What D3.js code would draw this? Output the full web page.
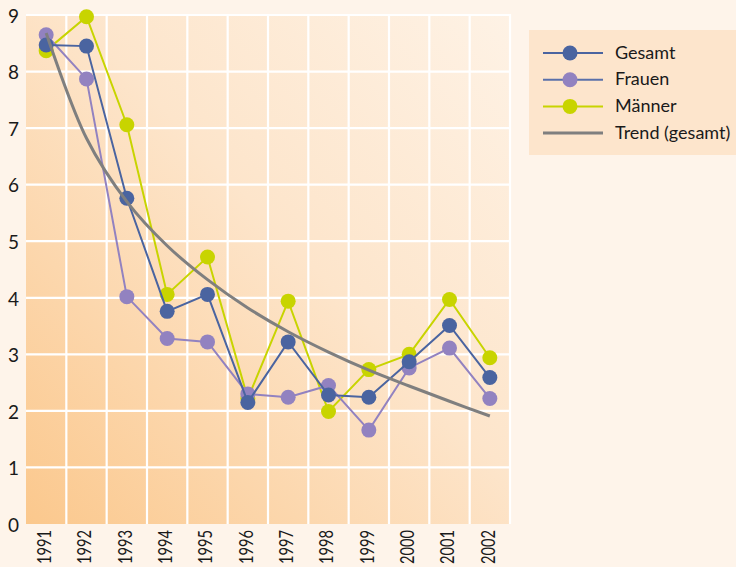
<!DOCTYPE html>
<html>
<head>
<meta charset="utf-8">
<script src="https://cdn.jsdelivr.net/npm/d3@7"></script>
<style>
  html, body { margin: 0; padding: 0; background: #fef4ea; }
  svg { display: block; font-family: Lato, "Open Sans", sans-serif; }
</style>
</head>
<body>
<svg id="chart" width="736" height="567"></svg>
<script>
const years = ["1991","1992","1993","1994","1995","1996","1997","1998","1999","2000","2001","2002"];
const gesamt = [8.47, 8.45, 5.76, 3.76, 4.06, 2.15, 3.22, 2.28, 2.24, 2.87, 3.51, 2.59];
const frauen = [8.65, 7.87, 4.02, 3.28, 3.22, 2.30, 2.24, 2.45, 1.66, 2.76, 3.11, 2.22];
const maenner = [8.37, 8.97, 7.06, 4.06, 4.72, 2.22, 3.94, 1.99, 2.73, 3.00, 3.97, 2.94];
const trend = [8.68, 6.82, 5.70, 4.92, 4.32, 3.82, 3.40, 3.04, 2.72, 2.44, 2.17, 1.91];
const yTicks = [0,1,2,3,4,5,6,7,8,9];
const legendLabels = ["Gesamt", "Frauen", "Männer", "Trend (gesamt)"];

const svg = d3.select("#chart");
const W = 736, H = 567;
svg.append("rect").attr("width", W).attr("height", H).attr("fill", "#fef4ea");

const x = d3.scaleBand().domain(years).range([26, 510]).padding(0);
const y = d3.scaleLinear().domain([0, 9]).range([524, 15]);
const cx = d => x(d) + x.bandwidth() / 2;

const defs = svg.append("defs");
const grad = defs.append("linearGradient").attr("id", "bg")
  .attr("x1", 0).attr("y1", 1).attr("x2", 1).attr("y2", 0);
grad.append("stop").attr("offset", "0%").attr("stop-color", "#fbc88d");
grad.append("stop").attr("offset", "55%").attr("stop-color", "#fde5cb");
grad.append("stop").attr("offset", "100%").attr("stop-color", "#fef2e5");

svg.append("rect")
  .attr("x", x.range()[0]).attr("y", y(9))
  .attr("width", x.range()[1] - x.range()[0]).attr("height", y(0) - y(9))
  .attr("fill", "url(#bg)");

// grid
const grid = svg.append("g").attr("stroke", "#ffffff").attr("stroke-width", 2.2);
years.forEach(yr => {
  grid.append("line").attr("x1", x(yr) + x.bandwidth()).attr("x2", x(yr) + x.bandwidth())
    .attr("y1", y(9) - 1).attr("y2", y(0));
});
yTicks.filter(t => t > 0).forEach(t => {
  grid.append("line").attr("x1", x.range()[0]).attr("x2", x.range()[1] + 1)
    .attr("y1", y(t)).attr("y2", y(t));
});

// y labels
svg.append("g").selectAll("text").data(yTicks).join("text")
  .attr("x", 19).attr("y", d => y(d) + 3)
  .attr("text-anchor", "end").attr("dominant-baseline", "middle")
  .attr("font-size", 19).attr("fill", "#1a1a1a")
  .text(d => d);

// x labels
svg.append("g").selectAll("text").data(years).join("text")
  .attr("transform", d => `translate(${cx(d)},530) rotate(-90)`)
  .attr("text-anchor", "end").attr("dominant-baseline", "middle")
  .attr("font-size", 19).attr("fill", "#1a1a1a")
  .attr("textLength", 34).attr("lengthAdjust", "spacingAndGlyphs")
  .text(d => d);

const line = d3.line().x((d, i) => cx(years[i])).y(d => y(d));
const series = [
  { name: "Männer", values: maenner, color: "#c8d400" },
  { name: "Frauen", values: frauen, color: "#9282c0" },
  { name: "Gesamt", values: gesamt, color: "#4a64a0" }
];
series.forEach(s => {
  const g = svg.append("g");
  g.append("path").datum(s.values).attr("d", line)
    .attr("fill", "none").attr("stroke", s.color).attr("stroke-width", 2);
  g.selectAll("circle").data(s.values).join("circle")
    .attr("cx", (d, i) => cx(years[i])).attr("cy", d => y(d))
    .attr("r", 7.5).attr("fill", s.color);
});

// trend
const trendLine = d3.line().x((d, i) => cx(years[i])).y(d => y(d)).curve(d3.curveCatmullRom.alpha(0.5));
svg.append("path").datum(trend).attr("d", trendLine)
  .attr("fill", "none").attr("stroke", "#7f7f7f").attr("stroke-width", 3);

// legend
const lg = svg.append("g");
lg.append("rect").attr("x", 529).attr("y", 30).attr("width", 210).attr("height", 125).attr("fill", "#fde5cc");
const legendItems = [
  { label: legendLabels[0], line: "#4a64a0", dot: "#4a64a0" },
  { label: legendLabels[1], line: "#5a70aa", dot: "#9282c0" },
  { label: legendLabels[2], line: "#c8d400", dot: "#c8d400" },
  { label: legendLabels[3], line: "#7f7f7f", dot: null }
];
legendItems.forEach((it, i) => {
  const yy = 53 + i * 26.7;
  lg.append("line").attr("x1", 543).attr("x2", 603).attr("y1", yy).attr("y2", yy)
    .attr("stroke", it.line).attr("stroke-width", it.dot ? 2 : 3);
  if (it.dot) lg.append("circle").attr("cx", 570).attr("cy", yy).attr("r", 7.5).attr("fill", it.dot);
  lg.append("text").attr("x", 615).attr("y", yy + 1).attr("dominant-baseline", "middle")
    .attr("font-size", 18).attr("fill", "#1a1a1a").text(it.label);
});
</script>
</body>
</html>
